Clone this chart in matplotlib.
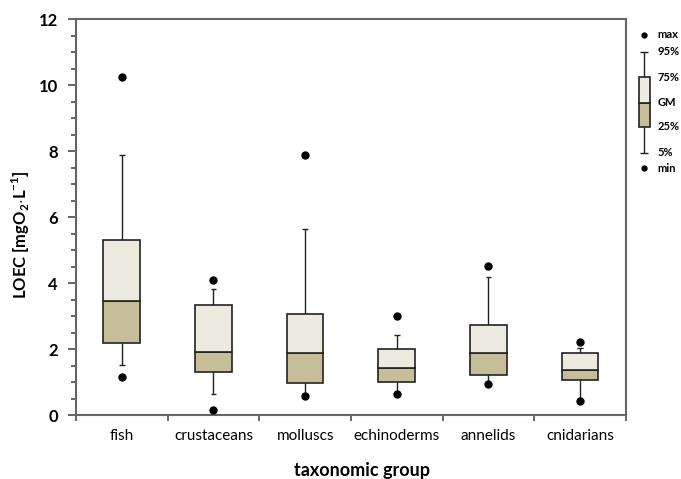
import numpy as np
import matplotlib
matplotlib.use("Agg")
from matplotlib import pyplot as plt

plt.rcParams['font.family'] = ['Lato', 'DejaVu Sans']
plt.rcParams['mathtext.fontset'] = 'custom'
plt.rcParams['mathtext.rm'] = 'Lato'
plt.rcParams['mathtext.bf'] = 'Lato:bold'

# data
groups = ['fish', 'crustaceans', 'molluscs', 'echinoderms', 'annelids', 'cnidarians']
v_min = [1.16, 0.15, 0.58, 0.64, 0.94, 0.43]
v_p5  = [1.52, 0.63, 0.65, 0.70, 0.98, 0.50]
v_p25 = [2.17, 1.29, 0.96, 1.00, 1.22, 1.06]
v_gm  = [3.45, 1.92, 1.87, 1.42, 1.89, 1.35]
v_p75 = [5.29, 3.32, 3.06, 2.00, 2.74, 1.89]
v_p95 = [7.88, 3.81, 5.64, 2.42, 4.19, 2.03]
v_max = [10.25, 4.09, 7.88, 3.00, 4.52, 2.20]

# legend key
leg_labels = ['min', '5%', '25%', 'GM', '75%', '95%', 'max']
leg_vals   = [0.0, 1.17, 3.12, 4.92, 6.83, 8.75, 10.0]

c_up   = '#EDEBDF'
c_low  = '#C5BE99'
c_axis = '#666666'


def draw_boxes(ax, x, lo, p5, p25, gm, p75, p95, hi, bw, cw, ms):
    x = np.asarray(x, dtype=float)
    ax.vlines(x, p75, p95, color='#222222', lw=1.0, zorder=1)
    ax.vlines(x, p5, p25, color='#222222', lw=1.0, zorder=1)
    ax.hlines(p95, x - cw/2, x + cw/2, color='#222222', lw=1.0)
    ax.hlines(p5, x - cw/2, x + cw/2, color='#222222', lw=1.0)
    ax.bar(x, np.subtract(gm, p25), bw, bottom=p25, color=c_low,
           edgecolor='#222222', lw=1.2, zorder=2)
    ax.bar(x, np.subtract(p75, gm), bw, bottom=gm, color=c_up,
           edgecolor='#222222', lw=1.2, zorder=2)
    ax.plot(x, hi, 'o', color='black', ms=ms, zorder=3, clip_on=False)
    ax.plot(x, lo, 'o', color='black', ms=ms, zorder=3, clip_on=False)


fig = plt.figure(figsize=(6.81, 4.79), dpi=100)
ax = fig.add_axes([0.1116, 0.1336, 0.8076, 0.8267])

xs = np.arange(len(groups))
draw_boxes(ax, xs, v_min, v_p5, v_p25, v_gm, v_p75, v_p95, v_max,
           0.4, 0.06, 5)

ax.set_xlim(-0.5, len(groups) - 0.5)
ax.set_ylim(0, 12)

ax.set_yticks(np.arange(0, 13, 2))
ax.set_yticks(np.arange(0, 12.01, 0.5), minor=True)
ax.set_xticks(xs)
ax.set_xticklabels(groups, fontsize=11)
ax.set_xticks(np.arange(-0.5, len(groups)), minor=True)

ax.tick_params(axis='y', which='major', length=6, width=1.4, color=c_axis,
               labelsize=12, pad=7)
ax.tick_params(axis='y', which='minor', length=3.5, width=1.4, color=c_axis)
ax.tick_params(axis='x', which='major', length=0, pad=10)
ax.tick_params(axis='x', which='minor', length=4, width=1.4, color=c_axis)
for t in ax.get_yticklabels():
    t.set_fontweight('bold')

for s in ax.spines.values():
    s.set_color(c_axis)
    s.set_linewidth(1.5)

ax.set_ylabel(r'LOEC [mgO$_\mathbf{2}$$\cdot$L$^\mathbf{-1}$]', fontsize=12,
              fontweight='bold')
ax.yaxis.set_label_coords(-0.08, 0.455)
ax.set_xlabel('taxonomic group', fontsize=13, fontweight='bold')
ax.xaxis.set_label_coords(0.52, -0.118)

# key on the right
lax = fig.add_axes([0.9317, 0.6486, 0.02937, 0.2784])
lax.set_xlim(-1, 1)
lax.set_ylim(0, 10)
lax.axis('off')
draw_boxes(lax, [0], [leg_vals[0]], [leg_vals[1]], [leg_vals[2]], [leg_vals[3]],
           [leg_vals[4]], [leg_vals[5]], [leg_vals[6]], 1.1, 0.8, 3.5)
for lab, v in zip(leg_labels, leg_vals):
    lax.text(1.3, v, lab, fontsize=8, fontweight='bold', va='center',
             ha='left', clip_on=False)

fig.savefig('out.png', dpi=100)
